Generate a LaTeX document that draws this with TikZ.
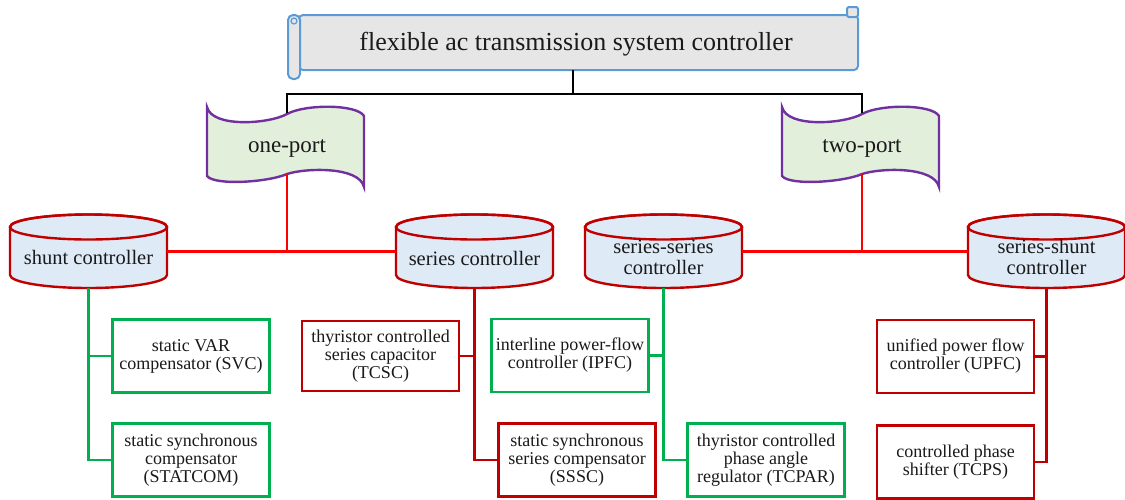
\documentclass[tikz,border=0pt]{standalone}
\usepackage{fontspec}
\setmainfont{Liberation Serif}
\definecolor{fgreen}{HTML}{00B050}
\definecolor{dred}{HTML}{C00000}
\definecolor{wpurple}{HTML}{7030A0}
\definecolor{wgreen}{HTML}{E2EFDA}
\definecolor{cylblue}{HTML}{DEEBF7}
\definecolor{sblue}{HTML}{5B9BD5}
\definecolor{sgray}{HTML}{E7E6E6}
\definecolor{txt}{HTML}{1A1A1A}
\begin{document}
\begin{tikzpicture}[x=1pt,y=-1pt,
 every node/.style={text=txt},
 leaf/.style={draw, line width=2.6pt, fill=white, minimum width=157pt, minimum height=73pt, align=center, inner sep=2pt, font=\fontsize{18}{18}\selectfont},
 gleaf/.style={leaf, draw=fgreen},
 rleaf/.style={leaf, draw=dred},
 cylframe/.style={minimum width=157pt, minimum height=73pt, inner sep=0pt, draw=none},
 cyltext/.style={align=center, font=\fontsize{20.5}{21}\selectfont},
 cylshape/.style={draw=dred, fill=cylblue, line width=2.4pt},
 wave/.style={draw=wpurple, fill=wgreen, line width=2.4pt},
 scroll/.style={draw=sblue, fill=sgray, line width=2pt},
 porttext/.style={font=\fontsize{23}{23}\selectfont},
 blk/.style={draw=black, line width=2.4pt},
 rcon/.style={draw=red, line width=2.4pt},
 drcon/.style={draw=dred, line width=2.4pt},
 gcon/.style={draw=fgreen, line width=2.4pt}]
\useasboundingbox (0,0) rectangle (1125,499);

% title scroll
\path[scroll, rounded corners=4pt] (299,15) rectangle (858,70);
\path[scroll, rounded corners=2pt] (847,7) rectangle (858,17);
\path[scroll, rounded corners=5pt] (288,15) rectangle (300,79);
\draw[scroll, fill=none, line width=1.2pt] (294,21) circle[radius=3pt];
\node[minimum width=559pt, minimum height=55pt, inner sep=0pt] (title) at (578.5,42.5) {};
\node[font=\fontsize{26}{26}\selectfont] (titleT) at (576,44) {flexible ac transmission system controller};

% wave banners
\foreach \wx in {207,782} {
 \path[wave] (\wx,107) .. controls (\wx+5,128) and (\wx+62,124) .. (\wx+80,114)
   .. controls (\wx+98,104) and (\wx+150,104) .. (\wx+157,116) -- (\wx+157,187)
   .. controls (\wx+152,166) and (\wx+98,168) .. (\wx+80,174)
   .. controls (\wx+62,182) and (\wx+8,186) .. (\wx,176) -- cycle;
}
\node[porttext] (one) at (287,148) {one-port};
\node[porttext] (two) at (862,148) {two-port};
\coordinate (oneTop) at (287,113);
\coordinate (oneBot) at (287,173);
\coordinate (twoTop) at (862,113);
\coordinate (twoBot) at (862,173);
\coordinate (bus) at (573,94);

% cylinders
\foreach \cx in {88.5,474.5,663.5,1046.5} {
 \path[cylshape] (\cx-78.5,227) -- (\cx-78.5,275)
   arc[start angle=180,end angle=360,x radius=78.5pt,y radius=13pt]
   -- (\cx+78.5,227)
   arc[start angle=0,end angle=180,x radius=78.5pt,y radius=12.5pt] -- cycle;
 \draw[cylshape, fill=none] (\cx,227) ellipse[x radius=78.5pt, y radius=12.5pt];
}
\node[cylframe] (shunt) at (88.5,251.5) {};
\node[cylframe] (series) at (474.5,251.5) {};
\node[cylframe] (sersr) at (663.5,251.5) {};
\node[cylframe] (sersh) at (1046.5,251.5) {};
\node[cyltext] (shuntT) at (88.5,257) {shunt controller};
\node[cyltext] (seriesT) at (474.5,258) {series controller};
\node[cyltext] (sersrT) at (663.5,257) {series-series\\controller};
\node[cyltext] (sershT) at (1046.5,257) {series-shunt\\controller};

% leaves
\node[gleaf] (svc) at (191,356) {static VAR\\compensator (SVC)};
\node[gleaf] (statcom) at (191,460) {static synchronous\\compensator\\(STATCOM)};
\node[rleaf, minimum height=70pt] (tcsc) at (380.5,356) {thyristor controlled\\series capacitor\\(TCSC)};
\node[rleaf] (sssc) at (577,460) {static synchronous\\series compensator\\(SSSC)};
\node[gleaf] (ipfc) at (570,355.5) {interline power-flow\\controller (IPFC)};
\node[gleaf] (tcpar) at (766,460) {thyristor controlled\\phase angle\\regulator (TCPAR)};
\node[rleaf] (upfc) at (955.5,356.5) {unified power flow\\controller (UPFC)};
\node[rleaf] (tcps) at (955.5,462) {controlled phase\\shifter (TCPS)};

% connectors
\draw[blk] (title.south -| bus) -- (bus);
\draw[blk] (oneTop) |- (bus) -| (twoTop);
\draw[rcon] (shunt.east) -- (series.west);
\draw[rcon] (oneBot) -- (oneBot |- shunt.east);
\draw[rcon] (sersr.east) -- (sersh.west);
\draw[rcon] (twoBot) -- (twoBot |- sersr.east);
\draw[gcon] (shunt.south) |- (svc.west);
\draw[gcon] (shunt.south) |- (statcom.west);
\draw[drcon] (series.south) |- (tcsc.east);
\draw[drcon] (series.south) |- (sssc.west);
\draw[gcon] (sersr.south) |- (ipfc.east);
\draw[gcon] (sersr.south) |- (tcpar.west);
\draw[drcon] (sersh.south) |- (upfc.east);
\draw[drcon] (sersh.south) |- (tcps.east);
\end{tikzpicture}
\end{document}
